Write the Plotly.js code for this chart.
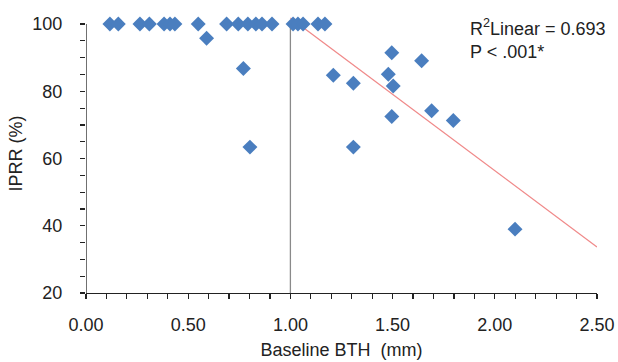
<!DOCTYPE html>
<html>
<head>
<meta charset="utf-8">
<script src="https://cdn.plot.ly/plotly-3.0.1.min.js"></script>
<style>html,body{margin:0;padding:0;background:#fff;}#chart{width:618px;height:362px;}</style>
</head>
<body>
<div id="chart"></div>
<script>
// Baseline BTH (mm) and IPRR (%) for each patient
const bth = [0.117, 0.158, 0.264, 0.310, 0.382, 0.411, 0.435, 0.549, 0.688, 0.745,
             0.792, 0.831, 0.861, 0.910, 1.013, 1.037, 1.062, 1.135, 1.169,
             0.590, 0.770, 0.802, 1.210, 1.308, 1.496, 1.479, 1.503, 1.642,
             1.308, 1.496, 1.691, 1.797, 2.099];
const iprr = [100, 100, 100, 100, 100, 100, 100, 100, 100, 100,
              100, 100, 100, 100, 100, 100, 100, 100, 100,
              95.8, 86.8, 63.4, 84.8, 82.4, 91.5, 85.1, 81.6, 89.1,
              63.4, 72.5, 74.2, 71.3, 39.0];
// Linear fit line (drawn for BTH >= 1.00)
const fitX = [1.0, 2.5];
const fitY = [101.8, 33.7];
const cutoff = 1.0;

const font = 'Liberation Sans, Arial, sans-serif';

const traces = [
  {x: fitX, y: fitY, mode: 'lines', type: 'scatter',
   line: {color: '#f08a8a', width: 1.3}, hoverinfo: 'skip'},
  {x: bth, y: iprr, mode: 'markers', type: 'scatter', cliponaxis: false,
   marker: {symbol: 'diamond', size: 11.5, color: '#4a7ebf'}}
];

const layout = {
  width: 618, height: 362,
  margin: {l: 86, r: 21, t: 14, b: 69},
  paper_bgcolor: '#fff', plot_bgcolor: '#fff',
  showlegend: false,
  font: {family: font, size: 17, color: '#222'},
  xaxis: {
    range: [0, 2.5], tickmode: 'linear', tick0: 0, dtick: 0.5, tickformat: '.2f',
    showgrid: false, zeroline: false, showline: true, linecolor: '#222', linewidth: 1.3,
    ticks: 'outside', ticklen: 5, tickcolor: '#222', tickwidth: 1.2,
    ticklabelstandoff: 10,
    minor: {dtick: 0.1, ticks: 'outside', ticklen: 5, tickcolor: '#222', tickwidth: 1.2, showgrid: false},
    tickfont: {size: 18, family: font, color: '#222'},
    title: {text: 'Baseline BTH&nbsp; (mm)', font: {size: 18, family: font, color: '#222'}, standoff: 9}
  },
  yaxis: {
    range: [20, 103], tickmode: 'linear', tick0: 20, dtick: 20,
    showgrid: false, zeroline: false, showline: false,
    ticks: 'outside', ticklen: 5, tickcolor: '#222', tickwidth: 1.2,
    ticklabelstandoff: 14,
    minor: {dtick: 5, ticks: 'outside', ticklen: 5, tickcolor: '#222', tickwidth: 1.2, showgrid: false},
    tickfont: {size: 18, family: font, color: '#222'},
    title: {text: 'IPRR (%)', font: {size: 18, family: font, color: '#222'}, standoff: 5}
  },
  shapes: [
    {type: 'line', xref: 'x', yref: 'y', x0: 0, x1: 0, y0: 20, y1: 100,
     line: {color: '#222', width: 1.3}},
    {type: 'line', xref: 'x', yref: 'y', x0: cutoff, x1: cutoff, y0: 20, y1: 100,
     line: {color: '#8a8a8a', width: 1.3}, layer: 'below'}
  ],
  annotations: [
    {xref: 'paper', yref: 'paper', x: 0.747, y: 1.0, xanchor: 'left', yanchor: 'top',
     align: 'left', showarrow: false,
     text: 'R<sup>2</sup>Linear = 0.693<br>P < .001*',
     font: {size: 18, family: font, color: '#222'}}
  ]
};

Plotly.newPlot('chart', traces, layout, {staticPlot: true, displayModeBar: false});
</script>
</body>
</html>
